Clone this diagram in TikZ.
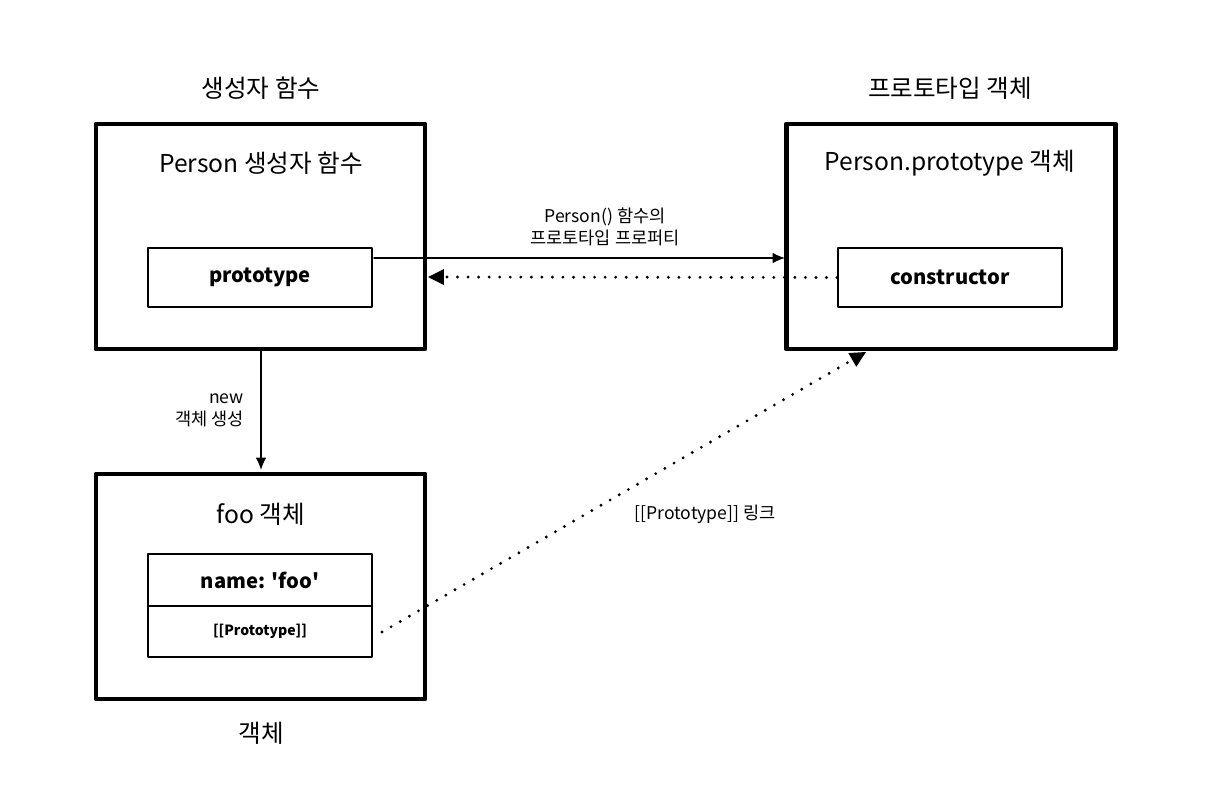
\documentclass[tikz,border=0pt]{standalone}
\usepackage{fontspec}
\setmainfont{Noto Sans CJK KR}
\usetikzlibrary{arrows.meta,positioning}
\begin{document}
\begin{tikzpicture}[x=0.02cm,y=-0.02cm,line cap=round,line join=round,
  outer/.style={draw,line width=2.8pt,minimum width=329*0.02cm,minimum height=225*0.02cm,inner sep=0pt},
  inner/.style={draw,line width=1.1pt,minimum width=224*0.02cm,minimum height=59*0.02cm,inner sep=0pt,font=\fontsize{11.5}{13}\selectfont\bfseries},
  title/.style={font=\fontsize{14}{16}\selectfont},
  lbl/.style={font=\fontsize{10}{12.5}\selectfont,align=center},
  dots/.style={line width=1.8pt,line cap=round,dash pattern=on 0pt off 6pt}]
\useasboundingbox (0,0) rectangle (1230,804);
% boxes
\node[outer] (ctor) at (260.5,236.5) {};
\node[outer] (proto) at (951,236.5) {};
\node[outer] (foo) at (260.5,586.5) {};
\node[inner] (protoprop) at (260,277.5) {prototype};
\node[inner] (constructor) at (950,277.5) {constructor};
\node[inner,minimum height=52*0.02cm] (name) at (260,580) {name: \textquotesingle foo\textquotesingle};
\node[inner,minimum height=51*0.02cm,font=\fontsize{8}{10}\selectfont\bfseries] (link) at (260,631.5) {[[Prototype]]};
% titles
\node[title] at (261,88) {생성자 함수};
\node[title] at (950,88) {프로토타입 객체};
\node[title] at (261,163) {Person 생성자 함수};
\node[title] at (950,163) {Person.prototype 객체};
\node[title] at (261,514) {foo 객체};
\node[title] at (261,733) {객체};
% connectors
\coordinate (a1) at (374,258);
\coordinate (a2) at (785,258);
\draw[line width=0.8pt,-{Latex[length=7pt,width=6pt]}] (a1) -- (a2);
\node[lbl] at (605,227) {Person() 함수의\\프로토타입 프로퍼티};
\coordinate (b2) at (428,277);
\draw[dots,-{Triangle[length=9pt,width=9pt,line width=0pt,sep=0pt]}] (constructor.west) -- (b2);
\coordinate (c1) at (261,351);
\coordinate (c2) at (261,470);
\draw[line width=0.8pt,-{Latex[length=7pt,width=6pt]}] (c1) -- (c2);
\node[lbl,align=right,anchor=east] at (250,410) {new\\객체 생성};
\coordinate (d1) at (382,632);
\coordinate (d2) at (866,352);
\draw[dots,-{Triangle[length=9pt,width=9pt,line width=0pt]}] (d1) -- (d2);
\node[lbl] at (705,514) {[[Prototype]] 링크};
\end{tikzpicture}
\end{document}
